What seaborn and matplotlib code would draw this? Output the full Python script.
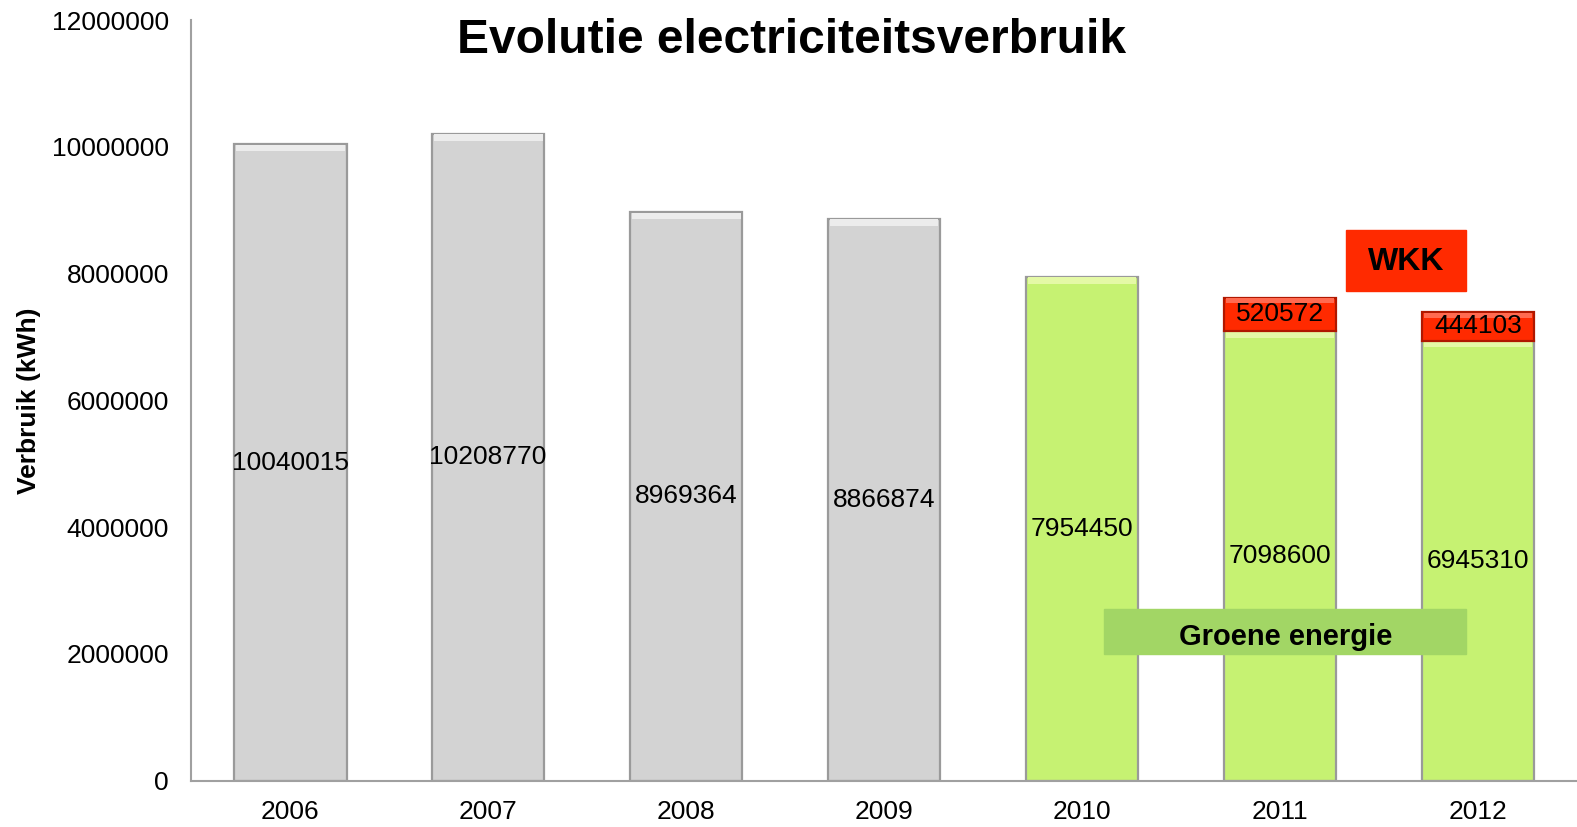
import matplotlib
matplotlib.use("Agg")
import matplotlib.pyplot as plt
from matplotlib.patches import Rectangle
import seaborn as sns
import pandas as pd

years = ["2006", "2007", "2008", "2009", "2010", "2011", "2012"]
base_values = [10040015, 10208770, 8969364, 8866874, 7954450, 7098600, 6945310]
wkk_years = ["2011", "2012"]
wkk_values = [520572, 444103]
bar_kind = ["grijs", "grijs", "grijs", "grijs", "groen", "groen", "groen"]
y_ticks = [0, 2000000, 4000000, 6000000, 8000000, 10000000, 12000000]

GREY = "#d3d3d3"
GREEN = "#c6f272"
RED = "#ff2a00"
BOX_GREEN = "#a2d665"

# layout grid (pixel units of a 1568 x 822 canvas)
W, H = 1568.0, 822.0

sns.set_theme(style="white")
plt.rcParams["font.family"] = ["Liberation Sans", "DejaVu Sans"]
plt.rcParams["text.color"] = "black"
plt.rcParams["axes.labelcolor"] = "black"
plt.rcParams["xtick.color"] = "black"
plt.rcParams["ytick.color"] = "black"

fig = plt.figure(figsize=(15.77, 8.27), dpi=100)
ax = fig.add_axes([190 / W, 1 - 776 / H, (1568 - 190) / W, (776 - 20) / H])

df = pd.DataFrame({"jaar": years, "verbruik": base_values, "soort": bar_kind})
sns.barplot(data=df, x="jaar", y="verbruik", hue="soort",
            palette={"grijs": GREY, "groen": GREEN}, width=0.57,
            dodge=False, legend=False, edgecolor="#9a9a9a", linewidth=1.6,
            saturation=1, ax=ax)

# WKK segment stacked on top of the green bars
wkk_pos = [years.index(y) for y in wkk_years]
wkk_bottom = [base_values[i] for i in wkk_pos]
ax.bar(wkk_pos, wkk_values, bottom=wkk_bottom, width=0.57, color=RED,
       edgecolor="#b01800", linewidth=1.6, zorder=3)

# soft bevel band along the top of each bar
for i, v in enumerate(base_values):
    hl = "#ececec" if bar_kind[i] == "grijs" else "#e4f9a6"
    ax.bar(i, 100000, bottom=v - 110000, width=0.55, color=hl, linewidth=0, zorder=2.5)
for p, b, v in zip(wkk_pos, wkk_bottom, wkk_values):
    ax.bar(p, 80000, bottom=b + v - 90000, width=0.55, color="#ff6a50", linewidth=0, zorder=3.5)

# value labels
for i, v in enumerate(base_values):
    ax.text(i, v / 2, str(v), ha="center", va="center", fontsize=19, color="black", zorder=5)
for p, b, v in zip(wkk_pos, wkk_bottom, wkk_values):
    ax.text(p, b + v / 2, str(v), ha="center", va="center", fontsize=19, color="black", zorder=5)

ax.set_xlim(-0.5, len(years) - 0.5)
ax.set_ylim(0, 12000000)
ax.set_yticks(y_ticks)
ax.set_yticklabels([str(t) for t in y_ticks], fontsize=19)
ax.tick_params(axis="y", length=0, pad=16)
ax.tick_params(axis="x", length=0, pad=14, labelsize=19)
ax.set_xlabel("")
ax.set_ylabel("Verbruik (kWh)", fontsize=19, fontweight="bold", labelpad=8)

for s in ["top", "right"]:
    ax.spines[s].set_visible(False)
for s in ["left", "bottom"]:
    ax.spines[s].set_color("#a0a0a0")
    ax.spines[s].set_linewidth(1.5)

# legend-style boxes
fig.patches.append(Rectangle((1338 / W, 1 - 289 / H), 120 / W, 60 / H,
                             transform=fig.transFigure, color=RED, zorder=6))
fig.text(1398 / W, 1 - 260 / H, "WKK", ha="center", va="center",
         fontsize=23, fontweight="bold", zorder=7)
fig.patches.append(Rectangle((1098 / W, 1 - 650 / H), 360 / W, 45 / H,
                             transform=fig.transFigure, color=BOX_GREEN, zorder=6))
fig.text(1278 / W, 1 - 633 / H, "Groene energie", ha="center", va="center",
         fontsize=21, fontweight="bold", zorder=7)

fig.text(787 / W, 1 - 40 / H, "Evolutie electriciteitsverbruik", ha="center",
         va="center", fontsize=34.5, fontweight="bold")

fig.savefig("out.png", dpi=100)
